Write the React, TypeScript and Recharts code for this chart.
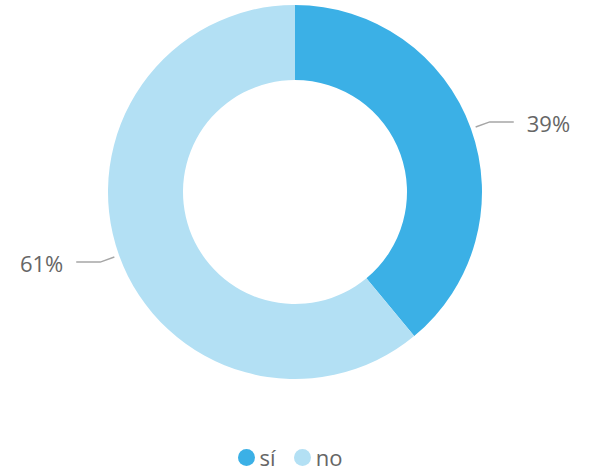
import React from 'react';
import { PieChart, Pie, Cell, Legend } from 'recharts';

const categories = ['sí', 'no'];
const shares = [39, 61];
const colors = ['#3bb0e6', '#b3e0f4'];

const data = categories.map((name, i) => ({ name, value: shares[i] }));

const RADIAN = Math.PI / 180;

const renderLabel = (props: any) => {
  const { cx, cy, midAngle, outerRadius, value } = props;
  const cos = Math.cos(-midAngle * RADIAN);
  const sin = Math.sin(-midAngle * RADIAN);
  const sx = cx + (outerRadius + 5) * cos;
  const sy = cy + (outerRadius + 5) * sin;
  const mx = cx + (outerRadius + 20) * cos;
  const my = cy + (outerRadius + 20) * sin;
  const ex = mx + (cos >= 0 ? 1 : -1) * 24;
  const tx = ex + (cos >= 0 ? 1 : -1) * 13;
  return (
    <g>
      <path d={`M${sx},${sy}L${mx},${my}L${ex},${my}`} stroke="#a6a6a6" strokeWidth={1.5} fill="none" />
      <text
        x={tx}
        y={my + 1}
        textAnchor={cos >= 0 ? 'start' : 'end'}
        dominantBaseline="central"
        fill="#666"
        fontSize={22}
      >
        {`${value}%`}
      </text>
    </g>
  );
};

const renderLegend = () => (
  <div
    style={{
      display: 'flex',
      justifyContent: 'center',
      alignItems: 'center',
      gap: 18,
      paddingRight: 10,
    }}
  >
    {categories.map((c, i) => (
      <div key={c} style={{ display: 'flex', alignItems: 'center' }}>
        <span
          style={{
            width: 17,
            height: 17,
            borderRadius: '50%',
            background: colors[i],
            display: 'inline-block',
            marginRight: 5,
          }}
        />
        <span style={{ color: '#666', fontSize: 22, lineHeight: '24px' }}>{c}</span>
      </div>
    ))}
  </div>
);

export default function App() {
  return (
    <div style={{ position: 'absolute', left: 0, top: 0, fontFamily: '"Open Sans", sans-serif' }}>
      <PieChart width={590} height={476}>
        <Pie
          data={data}
          dataKey="value"
          nameKey="name"
          cx={290}
          cy={187}
          innerRadius={112}
          outerRadius={187}
          startAngle={90}
          endAngle={-270}
          stroke="none"
          label={renderLabel}
          labelLine={false}
          isAnimationActive={false}
        >
          {data.map((d, i) => (
            <Cell key={d.name} fill={colors[i]} />
          ))}
        </Pie>
        <Legend verticalAlign="bottom" content={renderLegend} wrapperStyle={{ bottom: 7 }} />
      </PieChart>
    </div>
  );
}
